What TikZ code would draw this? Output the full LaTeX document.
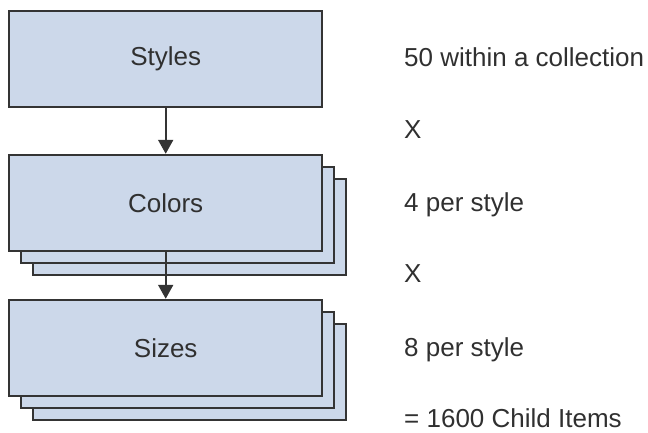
\documentclass[tikz,border=0pt]{standalone}
\usepackage{fontspec}
\setmainfont{Liberation Sans}
\usetikzlibrary{positioning,arrows.meta}

\definecolor{boxfill}{RGB}{204,216,234}
\definecolor{boxline}{RGB}{52,52,52}
\definecolor{inktext}{RGB}{48,48,48}

\tikzset{
	box/.style={draw=boxline, fill=boxfill, line width=2.4pt, minimum width=313pt, minimum height=96pt, inner sep=0pt, text=inktext, font=\fontsize{26}{31}\selectfont},
	note/.style={anchor=base west, inner sep=0pt, text=inktext, font=\fontsize{26}{31}\selectfont},
	flow/.style={draw=boxline, line width=2pt, -{Triangle[width=15pt,length=14pt]}},
}

\begin{document}
\begin{tikzpicture}[x=1pt,y=-1pt]
				\useasboundingbox (0,0) rectangle (648,432);
				
				\node[box] (styles) at (165.7,59) {Styles};
				
				\node[box, below=45.6pt of styles, xshift=24pt, yshift=-24pt] (colors3) {};
				\node[box, below=45.6pt of styles, xshift=12pt, yshift=-12pt] (colors2) {};
				\node[box, below=45.6pt of styles] (colors) {Colors};
				
				\node[box, below=46.6pt of colors, xshift=24pt, yshift=-24pt] (sizes3) {};
				\node[box, below=46.6pt of colors, xshift=12pt, yshift=-12pt] (sizes2) {};
				\node[box, below=46.6pt of colors] (sizes) {Sizes};
				
				\draw[flow] (styles) -- (colors);
				\draw[flow] (colors) -- (sizes);
				
				\node[note] (nstyles) at (404,66) {50 within a collection};
				\node[note] (times1) at (404,138) {X};
				\node[note] (ncolors) at (404,211) {4 per style};
				\node[note] (times2) at (404,282) {X};
				\node[note] (nsizes) at (404,356) {8 per style};
				\node[note] (total) at (404,427) {= 1600 Child Items};
\end{tikzpicture}
\end{document}
